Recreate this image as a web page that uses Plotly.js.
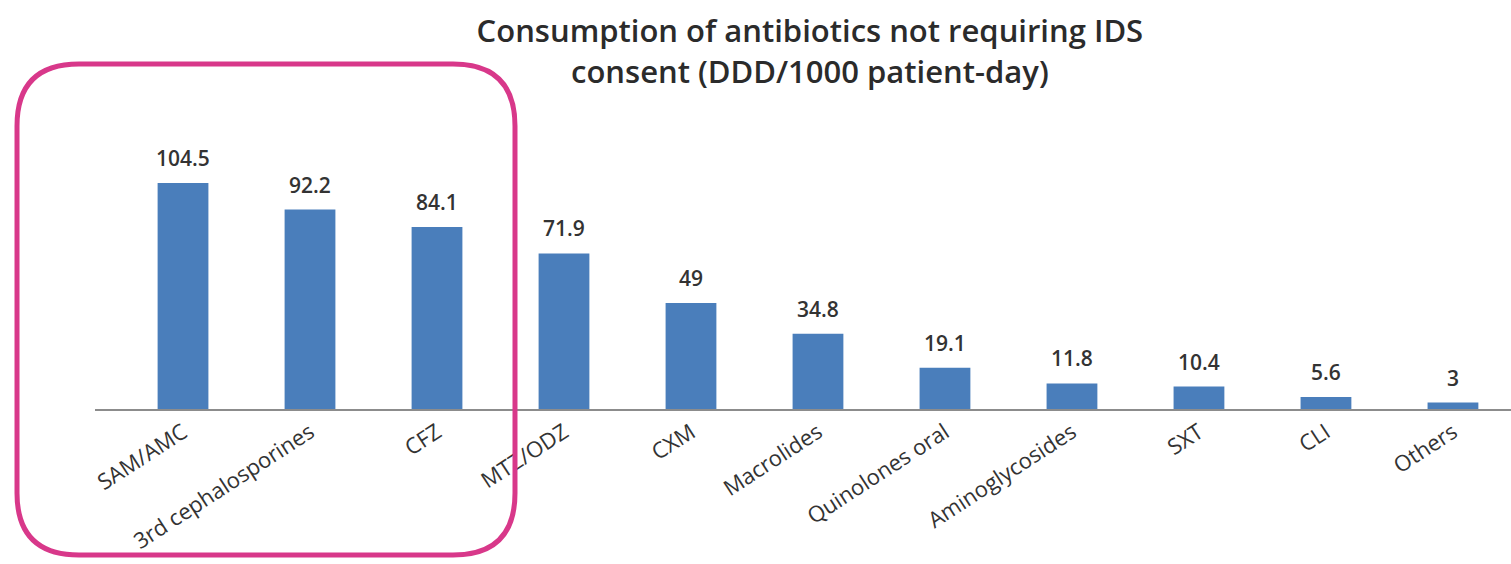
<!DOCTYPE html>
<html>
<head>
<meta charset="utf-8">
<script src="https://cdn.plot.ly/plotly-3.0.1.min.js"></script>
<style>
html,body{margin:0;padding:0;background:#fff;overflow:hidden;}
#chart{width:1511px;height:564px;}
</style>
</head>
<body>
<div id="chart"></div>
<script>
// Data
const categories = ["SAM/AMC", "3rd cephalosporines", "CFZ", "MTZ/ODZ", "CXM", "Macrolides",
  "Quinolones oral", "Aminoglycosides", "SXT", "CLI", "Others"];
const values = [104.5, 92.2, 84.1, 71.9, 49, 34.8, 19.1, 11.8, 10.4, 5.6, 3];
const valueLabels = ["104.5", "92.2", "84.1", "71.9", "49", "34.8", "19.1", "11.8", "10.4", "5.6", "3"];

// Layout geometry (pixels)
const W = 1511, H = 564;
const M = {l: 95, r: 0, t: 120, b: 155};
const plotW = W - M.l - M.r, plotH = H - M.t - M.b;

function px2paper(px, py) {
  return [(px - M.l) / plotW, (H - M.b - py) / plotH];
}

// Rounded highlight rectangle (decoration) built in pixel space then converted to paper
function roundedRectPath(x0, y0, x1, y1, r) {
  const pts = [
    ['M', x0 + r, y0],
    ['L', x1 - r, y0],
    ['Q', x1, y0, x1, y0 + r],
    ['L', x1, y1 - r],
    ['Q', x1, y1, x1 - r, y1],
    ['L', x0 + r, y1],
    ['Q', x0, y1, x0, y1 - r],
    ['L', x0, y0 + r],
    ['Q', x0, y0, x0 + r, y0]
  ];
  let d = '';
  pts.forEach(p => {
    d += p[0];
    const coords = [];
    for (let i = 1; i < p.length; i += 2) {
      const q = px2paper(p[i], p[i + 1]);
      coords.push(q[0].toFixed(5) + ',' + q[1].toFixed(5));
    }
    d += coords.join(' ') + ' ';
  });
  return d + 'Z';
}

const trace = {
  type: 'bar',
  x: categories,
  y: values,
  marker: {color: '#4A7EBB'},
  hoverinfo: 'x+y'
};

const annotations = categories.map((c, i) => ({
  x: c, y: values[i], xref: 'x', yref: 'y',
  text: valueLabels[i], showarrow: false,
  yanchor: 'bottom', yshift: 9,
  font: {family: 'Open Sans, sans-serif', size: 21, color: '#333333', weight: 600}
}));

const layout = {
  width: W, height: H,
  margin: M,
  paper_bgcolor: '#ffffff',
  plot_bgcolor: '#ffffff',
  showlegend: false,
  bargap: 0.6,
  title: {
    text: 'Consumption of antibiotics not requiring IDS<br>consent (DDD/1000 patient-day)',
    x: 0.536, xanchor: 'center', y: 0.925, yanchor: 'top',
    font: {family: 'Open Sans, sans-serif', size: 31, color: '#2b2b2b', weight: 600}
  },
  xaxis: {
    type: 'category',
    range: [-0.693, 10.457],
    showline: true, linecolor: '#8c8c8c', linewidth: 2,
    ticks: '', showgrid: false, zeroline: false,
    tickangle: -33,
    tickfont: {family: 'Open Sans, sans-serif', size: 22, color: '#333333'},
    automargin: false
  },
  yaxis: {
    range: [0, (H - M.b - M.t) / 2.163],
    visible: false, showgrid: false, zeroline: false, fixedrange: true
  },
  annotations: annotations,
  shapes: [{
    type: 'path', xref: 'paper', yref: 'paper',
    path: roundedRectPath(17, 64, 515, 555, 62),
    line: {color: '#D8388A', width: 5},
    fillcolor: 'rgba(0,0,0,0)'
  }]
};

Plotly.newPlot('chart', [trace], layout, {displayModeBar: false, staticPlot: true});
</script>
</body>
</html>
